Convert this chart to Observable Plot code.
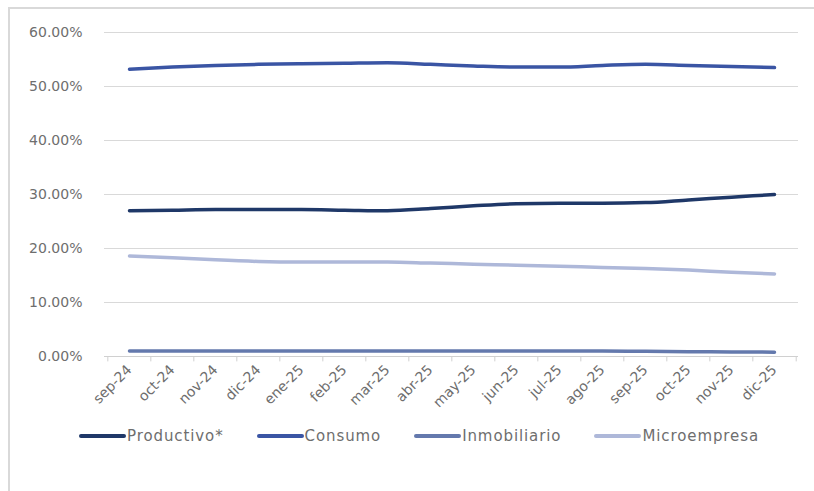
<!DOCTYPE html>
<html>
<head>
<meta charset="utf-8">
<script src="https://cdn.jsdelivr.net/npm/d3@7"></script>
<script src="https://cdn.jsdelivr.net/npm/@observablehq/plot@0.6"></script>
<style>
  html, body { margin: 0; padding: 0; background: #fff; }
  body { width: 814px; height: 491px; position: relative; overflow: hidden; font-family: "DejaVu Sans", sans-serif; }
  #frame { position: absolute; left: 8px; top: 7px; width: 806px; height: 484px; border-top: 2px solid #d9d9d9; border-left: 2px solid #d9d9d9; box-sizing: border-box; pointer-events: none; }
  #chart { position: absolute; left: 0; top: 0; }
  #legend { position: absolute; left: 0; top: 427px; width: 838px; display: flex; justify-content: center; gap: 33px; font-size: 15px; color: #6e6e6e; letter-spacing: 0.9px; }
  .item { display: flex; align-items: center; }
  .sw { width: 47px; height: 4px; border-radius: 2px; margin-right: 1px; }
</style>
</head>
<body>
<div id="chart"></div>
<div id="frame"></div>
<div id="legend"></div>
<script>
const months = ["sep-24","oct-24","nov-24","dic-24","ene-25","feb-25","mar-25","abr-25","may-25","jun-25","jul-25","ago-25","sep-25","oct-25","nov-25","dic-25"];
const seriesNames = ["Productivo*","Consumo","Inmobiliario","Microempresa"];
const productivo   = [27.0,27.1,27.2,27.2,27.2,27.1,27.0,27.4,27.9,28.3,28.4,28.4,28.5,29.0,29.5,30.0];
const consumo      = [53.2,53.6,53.9,54.1,54.2,54.3,54.4,54.1,53.8,53.6,53.6,53.9,54.1,53.9,53.7,53.5];
const inmobiliario = [1.0,1.0,1.0,1.0,1.0,1.0,1.0,1.0,1.0,1.0,1.0,1.0,0.95,0.9,0.85,0.8];
const microempresa = [18.6,18.3,17.9,17.6,17.5,17.5,17.5,17.3,17.1,16.9,16.7,16.5,16.3,16.0,15.6,15.3];
const yTicks = [0,10,20,30,40,50,60];

const colors = ["#1f3868","#3a55a4","#6479ad","#aeb8d9"];
const valuesBy = [productivo, consumo, inmobiliario, microempresa];
const data = seriesNames.flatMap((s, i) => months.map((m, j) => ({serie: s, month: m, value: valuesBy[i][j]})));

const W = 814, ML = 104, MR = 16;
const step = (W - ML - MR) / months.length;

const chart = Plot.plot({
  width: W,
  height: 420,
  marginLeft: ML,
  marginRight: MR,
  marginTop: 32,
  marginBottom: 64,
  style: { fontFamily: "DejaVu Sans, sans-serif", fontSize: "14px", color: "#6e6e6e", background: "transparent" },
  x: { type: "point", domain: months, padding: 0.5, label: null },
  y: { domain: [0, 60], label: null },
  color: { domain: seriesNames, range: colors },
  marks: [
    Plot.ruleY(yTicks.filter(d => d > 0), { stroke: "#d9d9d9", strokeWidth: 1.2 }),
    Plot.ruleY([0], { stroke: "#d0d0d0", strokeWidth: 1.2 }),
    Plot.ruleX(months, { x: d => d, y1: 0, y2: -1, dx: -step / 2, stroke: "#d0d0d0" }),
    Plot.ruleX([months[months.length - 1]], { x: d => d, y1: 0, y2: -1, dx: step / 2, stroke: "#d0d0d0" }),
    Plot.axisY({ ticks: yTicks, tickFormat: d => d.toFixed(2) + "%", tickSize: 0, tickPadding: 22, fontSize: 14, label: null, style: { letterSpacing: "0.9px" } }),
    Plot.axisX({ tickSize: 0, tickPadding: 11, tickRotate: -45, fontSize: 14, label: null, style: { letterSpacing: "0.3px" } }),
    Plot.line(data, { x: "month", y: "value", z: "serie", stroke: "serie", strokeWidth: 3.5, curve: "monotone-x" })
  ]
});
document.getElementById("chart").appendChild(chart);

const legend = document.getElementById("legend");
seriesNames.forEach((s, i) => {
  const it = document.createElement("div");
  it.className = "item";
  const sw = document.createElement("span");
  sw.className = "sw";
  sw.style.background = colors[i];
  const tx = document.createElement("span");
  tx.textContent = s;
  it.appendChild(sw);
  it.appendChild(tx);
  legend.appendChild(it);
});
</script>
</body>
</html>
